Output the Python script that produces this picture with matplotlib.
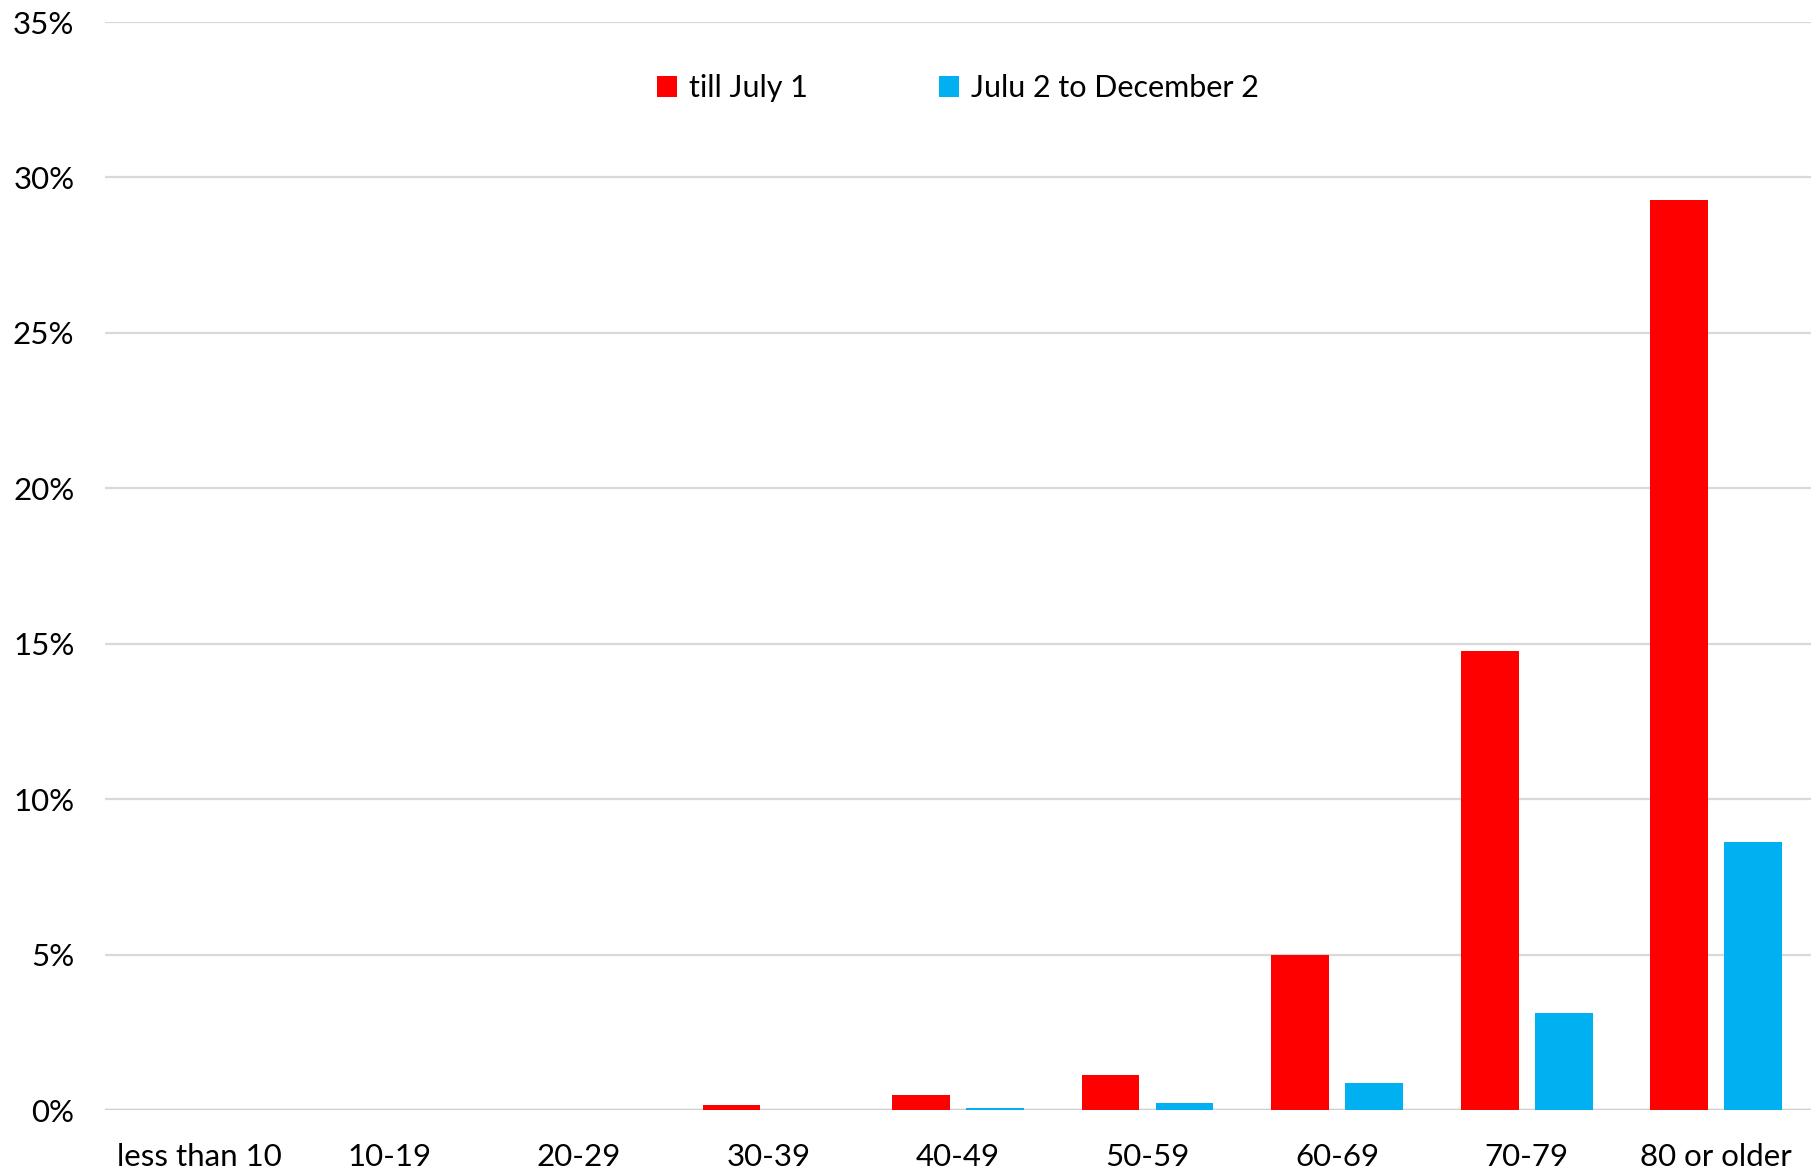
import numpy as np
import matplotlib.pyplot as plt
from matplotlib.ticker import PercentFormatter

plt.rcParams['font.family'] = ['Lato', 'DejaVu Sans']

# share of deaths by age group
groups = ["less than 10", "10-19", "20-29", "30-39", "40-49",
          "50-59", "60-69", "70-79", "80 or older"]
till_july = [0.0, 0.0, 0.0, 0.15, 0.48, 1.13, 5.0, 14.77, 29.27]
july_dec = [0.0, 0.0, 0.0, 0.0, 0.07, 0.22, 0.86, 3.13, 8.61]

red = "#ff0000"
blue = "#00b0f0"

fig = plt.figure(figsize=(18.17, 11.68), dpi=100)
ax = fig.add_axes([105 / 1817, 1 - 1110 / 1168, 1706 / 1817, 1088 / 1168])

x = np.arange(len(groups))
w = 0.305
ax.bar(x - 0.195, till_july, w, color=red, label="till July 1", zorder=3)
ax.bar(x + 0.195, july_dec, w, color=blue, label="Julu 2 to December 2", zorder=3)

ax.set_ylim(0, 35)
ax.set_xlim(-0.5, len(groups) - 0.5)
ax.set_yticks(np.arange(0, 36, 5))
ax.yaxis.set_major_formatter(PercentFormatter(decimals=0))
ax.set_xticks(x)
ax.set_xticklabels(groups)
ax.grid(axis="y", color="#d9d9d9", linewidth=1.6, zorder=0)
ax.axhline(0, color="#d0d0d0", linewidth=2.5, zorder=2)
for s in ax.spines.values():
    s.set_visible(False)
ax.tick_params(axis="both", length=0, labelsize=22.5, colors="#000000")
ax.tick_params(axis="y", pad=22)
ax.tick_params(axis="x", pad=24)

ax.legend(loc="center", bbox_to_anchor=(0.5, 0.939), ncol=2, frameon=False,
          fontsize=22, handlelength=0.65, handleheight=0.7, handletextpad=0.4,
          columnspacing=4.3)

fig.savefig("out.png", dpi=100)
